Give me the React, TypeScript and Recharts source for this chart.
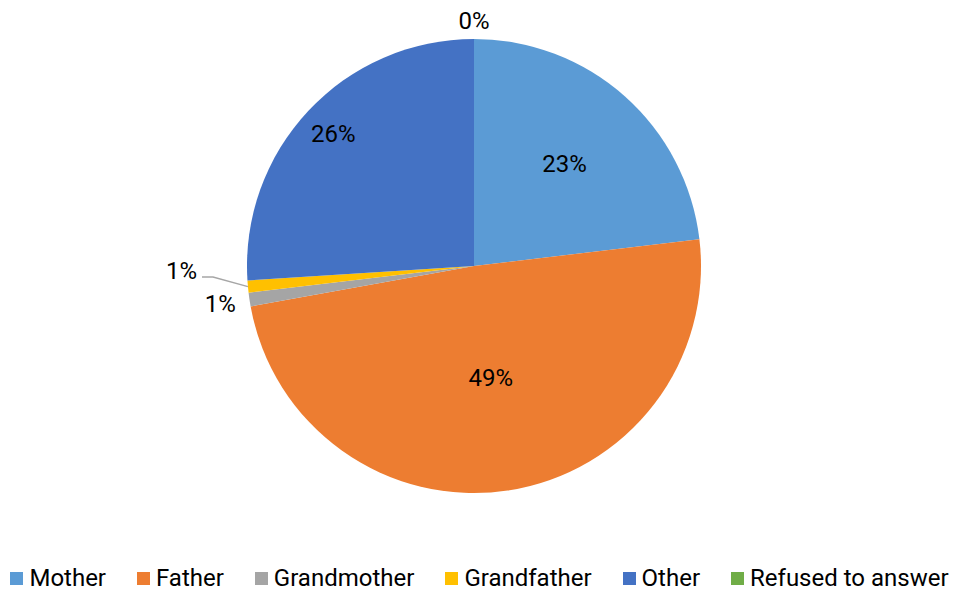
import { PieChart, Pie, Cell } from "recharts";

const categories = ["Mother", "Father", "Grandmother", "Grandfather", "Other", "Refused to answer"];
const shares = [23.1, 49, 0.97, 0.86, 26, 0];
const colors = ["#5B9BD5", "#ED7D31", "#A5A5A5", "#FFC000", "#4472C4", "#70AD47"];

// label placement per slice: radius factor (of outer radius)
const labelRadius = [0.6, 0.5, 1.13, 0, 0.85, 1.08];

const data = categories.map((name, i) => ({ name, value: shares[i] }));

const RAD = Math.PI / 180;

const renderLabel = (props: any) => {
  const { cx, cy, midAngle, outerRadius, percent, index } = props;
  const text = `${Math.round(percent * 100)}%`;
  if (index === 3) {
    // leader line for the small grandfather slice
    const sx = cx + outerRadius * Math.cos(-midAngle * RAD);
    const sy = cy + outerRadius * Math.sin(-midAngle * RAD);
    const ex = cx - outerRadius - 34;
    const ey = cy + 11;
    const hx = cx - outerRadius - 45;
    return (
      <g>
        <polyline
          points={`${sx},${sy} ${ex},${ey} ${hx},${ey}`}
          fill="none"
          stroke="#A6A6A6"
          strokeWidth={1.5}
        />
        <text x={hx - 5} y={ey - 6} textAnchor="end" dominantBaseline="central" fill="#000" fontSize={24}>
          {text}
        </text>
      </g>
    );
  }
  const r = outerRadius * labelRadius[index];
  const x = cx + r * Math.cos(-midAngle * RAD);
  const y = cy + r * Math.sin(-midAngle * RAD);
  return (
    <text x={x} y={y} textAnchor="middle" dominantBaseline="central" fill="#000" fontSize={24}>
      {text}
    </text>
  );
};

const LegendRow = () => (
  <div
    style={{
      position: "absolute",
      left: 0,
      top: 564,
      width: 953,
      height: 28,
      boxSizing: "border-box",
      paddingLeft: 6,
      display: "flex",
      alignItems: "center",
      justifyContent: "center",
      fontSize: 24,
      lineHeight: "28px",
      color: "#000",
      whiteSpace: "nowrap",
    }}
  >
    {categories.map((c, i) => (
      <div key={c} style={{ display: "flex", alignItems: "center", marginRight: i < categories.length - 1 ? 31 : 0 }}>
        <span style={{ width: 13, height: 13, background: colors[i], marginRight: 6, display: "inline-block" }} />
        <span>{c}</span>
      </div>
    ))}
  </div>
);

export default function App() {
  return (
    <div
      style={{
        position: "absolute",
        left: 0,
        top: 0,
        width: 953,
        height: 592,
        background: "#fff",
        fontFamily: "Roboto, sans-serif",
      }}
    >
      <PieChart width={953} height={560} margin={{ top: 0, right: 0, bottom: 0, left: 0 }}>
        <Pie
          data={data}
          dataKey="value"
          nameKey="name"
          cx={474}
          cy={266}
          outerRadius={227}
          startAngle={90}
          endAngle={-270}
          stroke="none"
          label={renderLabel}
          labelLine={false}
          isAnimationActive={false}
        >
          {data.map((d, i) => (
            <Cell key={d.name} fill={colors[i]} />
          ))}
        </Pie>
      </PieChart>
      <LegendRow />
    </div>
  );
}
